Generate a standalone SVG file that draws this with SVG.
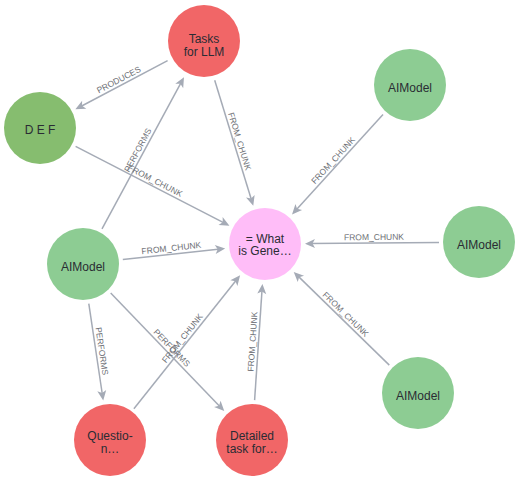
<svg xmlns="http://www.w3.org/2000/svg" width="523" height="480" viewBox="0 0 523 480">
<style>
.edge{stroke:#a5abb6;stroke-width:1.5;fill:none;marker-end:url(#arrow)}
.elabel{font-family:"Liberation Sans",Arial,Helvetica,sans-serif;font-size:8.5px;fill:#6d6f75;text-anchor:middle}
.node circle{stroke:none}
.node text{font-family:"Liberation Sans",Arial,Helvetica,sans-serif;font-size:12px;fill:#2a2c34;text-anchor:middle}
.red{fill:#f16667}
.green{fill:#8dcc93}
.dgreen{fill:#86bd6f}
.pink{fill:#ffbdf8}
</style>
<defs>
<marker id="arrow" markerUnits="userSpaceOnUse" viewBox="-6 -6 12 12" markerWidth="12" markerHeight="12" refX="0" refY="0" orient="auto">
<path d="M5,0 L-5,-4.5 L-2.5,0 L-5,4.5 Z" fill="#a5abb6"/>
</marker>
</defs>
<rect width="523" height="480" fill="#ffffff"/>
<g id="connectors">
<line class="edge" x1="167.6" y1="60.7" x2="79.8" y2="107.0"/>
<line class="edge" x1="214.7" y1="80.2" x2="251.8" y2="201.0"/>
<line class="edge" x1="75.6" y1="146.3" x2="225.0" y2="223.4"/>
<line class="edge" x1="102.0" y1="228.8" x2="181.6" y2="81.6"/>
<line class="edge" x1="122.8" y1="259.6" x2="220.2" y2="249.0"/>
<line class="edge" x1="88.8" y1="303.6" x2="102.5" y2="395.5"/>
<line class="edge" x1="110.7" y1="292.9" x2="220.8" y2="407.5"/>
<line class="edge" x1="133.9" y1="408.7" x2="237.0" y2="279.2"/>
<line class="edge" x1="254.6" y1="400.1" x2="262.1" y2="288.9"/>
<line class="edge" x1="383.0" y1="114.6" x2="295.4" y2="210.7"/>
<line class="edge" x1="439.0" y1="242.4" x2="310.0" y2="243.6"/>
<line class="edge" x1="389.3" y1="365.1" x2="297.3" y2="275.4"/>
<text class="elabel" transform="translate(121.5,85) rotate(-27.8)" y="-3">PRODUCES</text>
<text class="elabel" transform="translate(234,143) rotate(73)" y="-3">FROM_CHUNK</text>
<text class="elabel" transform="translate(152.5,186) rotate(27.3)" y="-3">FROM_CHUNK</text>
<text class="elabel" transform="translate(143,153) rotate(-61.6)" y="-3">PERFORMS</text>
<text class="elabel" transform="translate(172,254) rotate(-6.3)" y="-3">FROM_CHUNK</text>
<text class="elabel" transform="translate(96,352) rotate(81.6)" y="-3">PERFORMS</text>
<text class="elabel" transform="translate(167.5,352) rotate(46.2)" y="-3">PERFORMS</text>
<text class="elabel" transform="translate(187,342) rotate(-51.5)" y="-3">FROM_CHUNK</text>
<text class="elabel" transform="translate(258.5,342) rotate(-86.2)" y="-3">FROM_CHUNK</text>
<text class="elabel" transform="translate(337.5,164.5) rotate(-47.6)" y="-3">FROM_CHUNK</text>
<text class="elabel" transform="translate(374,243) rotate(-0.5)" y="-3">FROM_CHUNK</text>
<text class="elabel" transform="translate(341.5,318.5) rotate(44.2)" y="-3">FROM_CHUNK</text>
</g>
<g id="node-tasks" class="node"><circle class="red" cx="204" cy="41" r="36"/><text x="204" y="43">Tasks</text><text x="204" y="55.5">for LLM</text></g>
<g id="node-def" class="node"><circle class="dgreen" cx="40" cy="128" r="36"/><text x="40" y="134">D E F</text></g>
<g id="node-aimodel-tr" class="node"><circle class="green" cx="410" cy="85" r="36"/><text x="410" y="91.5">AIModel</text></g>
<g id="node-aimodel-left" class="node"><circle class="green" cx="83" cy="264" r="36"/><text x="83" y="270.5">AIModel</text></g>
<g id="node-what" class="node"><circle class="pink" cx="265" cy="244" r="36"/><text x="265" y="242.5">= What</text><text x="265" y="255">is Gene…</text></g>
<g id="node-aimodel-right" class="node"><circle class="green" cx="479" cy="242" r="36"/><text x="479" y="248.5">AIModel</text></g>
<g id="node-aimodel-br" class="node"><circle class="green" cx="418" cy="393" r="36"/><text x="418" y="399.5">AIModel</text></g>
<g id="node-question" class="node"><circle class="red" cx="110" cy="440" r="36"/><text x="110" y="440">Questio-</text><text x="110" y="453">n…</text></g>
<g id="node-detailed" class="node"><circle class="red" cx="252" cy="440" r="36"/><text x="252" y="440">Detailed</text><text x="252" y="453">task for…</text></g>
</svg>
